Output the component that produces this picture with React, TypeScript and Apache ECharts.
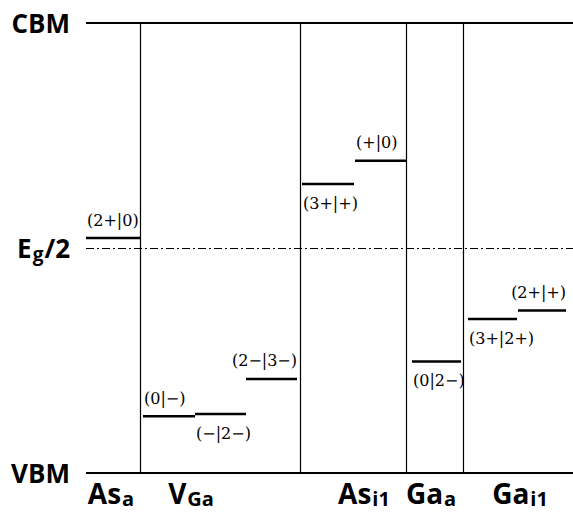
import React, { useEffect, useRef } from "react";
import * as echarts from "echarts";

// Energy levels as fraction of the gap (VBM = 0, CBM = 1)
const levelLabels = ["(2+|0)", "(0|−)", "(−|2−)", "(2−|3−)", "(3+|+)", "(+|0)", "(0|2−)", "(3+|2+)", "(2+|+)"];
const levelStart = [0, 57, 109, 160, 216, 269, 326, 382, 432];
const levelEnd = [54, 109, 160, 211, 268, 320, 375, 431, 480];
const levelEnergy = [0.522, 0.126, 0.131, 0.209, 0.642, 0.694, 0.248, 0.342, 0.361];
const levelLabelSide = ["above", "above", "below", "above", "below", "above", "below", "below", "above"];
const levelLabelAlign = ["left", "left", "left", "right", "left", "left", "left", "left", "right"];

// Defect columns
const defectMain = ["As", "V", "As", "Ga", "Ga"];
const defectSub = ["a", "Ga", "i1", "a", "i1"];
const defectLabelAt = [25, 105, 278, 345, 434];
const separators = [54, 214, 320, 377];

// Band reference levels
const bandValues = [0, 0.5, 1];

export default function App() {
  const ref = useRef<HTMLDivElement>(null);
  useEffect(() => {
    if (!ref.current) return;
    const chart = echarts.init(ref.current, null, { renderer: "svg" });
    const boldFont = '"Open Sans", "DejaVu Sans", sans-serif';
    const richY = {
      b: { fontFamily: boldFont, fontWeight: "bold" as const, fontSize: 26, color: "#000", lineHeight: 30 },
      s: { fontFamily: boldFont, fontWeight: "bold" as const, fontSize: 19, color: "#000", padding: [12, 1, 0, 1] },
    };
    const richX = {
      b: { fontFamily: boldFont, fontWeight: "bold" as const, fontSize: 28, color: "#000", lineHeight: 30 },
      s: { fontFamily: boldFont, fontWeight: "bold" as const, fontSize: 20, color: "#000", padding: [10, 0, 0, 1] },
    };
    const levelData = levelLabels.map((l, i) => [levelStart[i], levelEnd[i], levelEnergy[i], i]);
    chart.setOption({
      animation: false,
      backgroundColor: "#fff",
      grid: { left: 86, right: 0, top: 23, bottom: 43 },
      xAxis: {
        type: "value",
        min: 0,
        max: 487,
        axisLine: { show: false },
        axisTick: { show: false },
        splitLine: { show: false },
        axisLabel: {
          customValues: defectLabelAt,
          margin: 5,
          rich: richX,
          formatter: (v: number) => {
            const i = defectLabelAt.indexOf(v);
            if (i < 0) return "";
            return `{b|${defectMain[i]}}{s|${defectSub[i]}}`;
          },
        },
      },
      yAxis: {
        type: "value",
        min: 0,
        max: 1,
        interval: 0.5,
        axisLine: { show: false },
        axisTick: { show: false },
        splitLine: { show: false },
        axisLabel: {
          margin: 16,
          rich: richY,
          formatter: (v: number) => {
            if (v === 1) return "{b|CBM}";
            if (v === 0.5) return "{b|E}{s|g}{b|/2}";
            if (v === 0) return "{b|VBM}";
            return "";
          },
        },
      },
      series: [
        {
          type: "line",
          data: [],
          silent: true,
          markLine: {
            silent: true,
            symbol: "none",
            label: { show: false },
            data: [
              { yAxis: bandValues[2], lineStyle: { color: "#000", width: 2, type: "solid" } },
              { yAxis: bandValues[0], lineStyle: { color: "#000", width: 2, type: "solid" } },
              { yAxis: bandValues[1], lineStyle: { color: "#000", width: 1, type: [8, 3, 2, 3] } },
              ...separators.map((x) => ({ xAxis: x, lineStyle: { color: "#000", width: 1.2, type: "solid" } })),
            ],
          },
        },
        {
          type: "custom",
          silent: true,
          data: levelData,
          renderItem: (params: any, api: any) => {
            const x0 = api.value(0);
            const x1 = api.value(1);
            const y = api.value(2);
            const i = api.value(3);
            const p0 = api.coord([x0, y]);
            const p1 = api.coord([x1, y]);
            const above = levelLabelSide[i] === "above";
            const right = levelLabelAlign[i] === "right";
            return {
              type: "group",
              children: [
                {
                  type: "line",
                  shape: { x1: p0[0], y1: p0[1], x2: p1[0], y2: p1[1] },
                  style: { stroke: "#000", lineWidth: 2.5 },
                },
                {
                  type: "text",
                  style: {
                    text: levelLabels[i],
                    x: right ? p1[0] : p0[0] + 1,
                    y: above ? p0[1] - 10 : p0[1] + 11,
                    align: right ? "right" : "left",
                    verticalAlign: above ? "bottom" : "top",
                    fill: "#000",
                    font: '16px "DejaVu Serif", serif',
                  },
                },
              ],
            };
          },
        },
      ],
    });
    return () => chart.dispose();
  }, []);
  return <div ref={ref} style={{ position: "fixed", left: 0, top: 0, width: 573, height: 516 }} />;
}
